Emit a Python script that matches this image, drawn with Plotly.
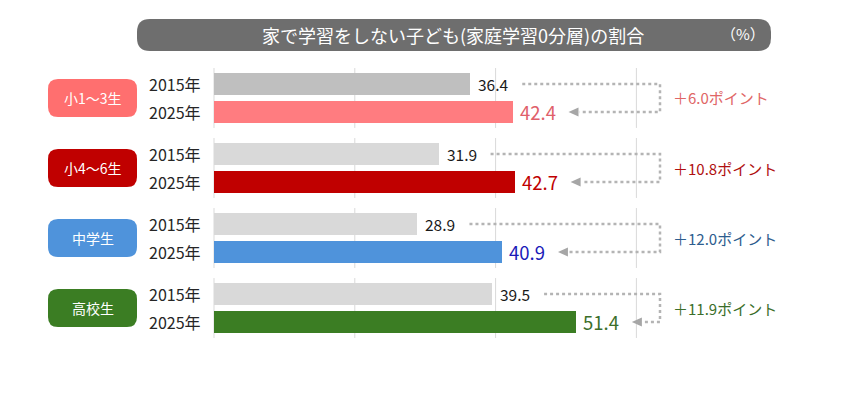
import plotly.graph_objects as go

# ---- data ----
categories = ["小1～3生", "小4～6生", "中学生", "高校生"]
years = ["2015年", "2025年"]
values_2015 = [36.4, 31.9, 28.9, 39.5]
values_2025 = [42.4, 42.7, 40.9, 51.4]
title_text = "家で学習をしない子ども(家庭学習0分層)の割合"
unit_text = "（%）"

# ---- styles ----
gray_2015 = ["#bfbfbf", "#d9d9d9", "#d9d9d9", "#d9d9d9"]
color_2025 = ["#ff7c80", "#c00000", "#4f93db", "#3b7d23"]
pill_colors = ["#ff6f6f", "#c00000", "#4f93db", "#3b7d23"]
label_2025_colors = ["#e0606a", "#c00000", "#1a1ab8", "#3b6e2a"]
diff_colors = ["#e06666", "#b01010", "#2e5d8e", "#3b6e2a"]
FONT = "Noto Sans CJK JP"

W, H = 841, 405
X0PX = 214.0          # pixel of value 0
PXU = 7.04            # pixels per unit of x
T, B = 68, 67         # plot area top/bottom margins
YU = 28.0             # pixels per y unit
GROUP_STEP = 2.5

def px2x(p):
    return (p - X0PX) / PXU

def dx(p):
    return p / PXU

def dy(p):
    return p / YU

plot_h = H - T - B
def py2paper(p):
    return (H - B - p) / plot_h

pos_2015 = [i * GROUP_STEP for i in range(len(categories))]
pos_2025 = [i * GROUP_STEP + 1 for i in range(len(categories))]

fig = go.Figure()
fig.add_trace(go.Bar(x=values_2015, y=pos_2015, orientation="h", width=0.79,
                     marker=dict(color=gray_2015, line=dict(width=0)),
                     hoverinfo="skip", showlegend=False))
fig.add_trace(go.Bar(x=values_2025, y=pos_2025, orientation="h", width=0.79,
                     marker=dict(color=color_2025, line=dict(width=0)),
                     hoverinfo="skip", showlegend=False))

shapes = []
annotations = []

def rounded_rect(x0, x1, y0, y1, rx, ry):
    return (f"M {x0+rx},{y0} L {x1-rx},{y0} Q {x1},{y0} {x1},{y0+ry} "
            f"L {x1},{y1-ry} Q {x1},{y1} {x1-rx},{y1} L {x0+rx},{y1} "
            f"Q {x0},{y1} {x0},{y1-ry} L {x0},{y0+ry} Q {x0},{y0} {x0+rx},{y0} Z")

BRACKET_X = px2x(660)
for i, cat in enumerate(categories):
    ya, yb = pos_2015[i], pos_2025[i]
    # grid segments
    for gv in [0, 20, 40, 60]:
        shapes.append(dict(type="line", xref="x", yref="y", x0=gv, x1=gv,
                           y0=ya - 0.57, y1=yb + 0.57,
                           line=dict(color="#d9d9d9", width=1), layer="below"))
    # pill
    ymid = (ya + yb) / 2
    shapes.append(dict(type="path", xref="x", yref="y",
                       path=rounded_rect(px2x(48), px2x(137), ymid - dy(19), ymid + dy(19), dx(10), dy(10)),
                       fillcolor=pill_colors[i], line=dict(width=0)))
    annotations.append(dict(x=(px2x(48) + px2x(137)) / 2, y=ymid, xref="x", yref="y",
                            text=cat, showarrow=False, xanchor="center", yanchor="middle",
                            font=dict(family=FONT, size=14, color="white")))
    # year labels
    for yy, yr in zip([ya, yb], years):
        annotations.append(dict(x=px2x(203), y=yy, xref="x", yref="y", text=yr,
                                showarrow=False, xanchor="right", yanchor="middle",
                                font=dict(family=FONT, size=16, color="#262626")))
    # value labels
    v1, v2 = values_2015[i], values_2025[i]
    annotations.append(dict(x=v1, y=ya, xref="x", yref="y", text=f"{v1:.1f}",
                            showarrow=False, xanchor="left", yanchor="middle", xshift=6,
                            font=dict(family=FONT, size=15.5, color="#1a1a1a")))
    annotations.append(dict(x=v2, y=yb, xref="x", yref="y", text=f"{v2:.1f}",
                            showarrow=False, xanchor="left", yanchor="middle", xshift=5,
                            font=dict(family=FONT, size=18.5, color=label_2025_colors[i])))
    # dotted bracket
    start = v1 + dx(52)
    tip = v2 + dx(56)
    shapes.append(dict(type="path", xref="x", yref="y",
                       path=f"M {start},{ya} L {BRACKET_X},{ya} L {BRACKET_X},{yb} L {tip + dx(11)},{yb}",
                       line=dict(color="#b4b4b4", width=2.5, dash="dot")))
    shapes.append(dict(type="path", xref="x", yref="y",
                       path=f"M {tip},{yb} L {tip + dx(10)},{yb - dy(4.5)} L {tip + dx(10)},{yb + dy(4.5)} Z",
                       fillcolor="#a6a6a6", line=dict(width=0)))
    # diff label
    diff = v2 - v1
    annotations.append(dict(x=px2x(671), y=ymid, xref="x", yref="y",
                            text=f"＋{diff:.1f}ポイント", showarrow=False,
                            xanchor="left", yanchor="middle",
                            font=dict(family=FONT, size=15, color=diff_colors[i])))

# title bar
shapes.append(dict(type="path", xref="x", yref="paper",
                   path=rounded_rect(px2x(137), px2x(771), py2paper(51), py2paper(19),
                                     dx(13), 13 / plot_h),
                   fillcolor="#6e6e6e", line=dict(width=0)))
annotations.append(dict(x=px2x(453), y=py2paper(35), xref="x", yref="paper", text=title_text,
                        showarrow=False, xanchor="center", yanchor="middle",
                        font=dict(family=FONT, size=18, color="white")))
annotations.append(dict(x=px2x(743), y=py2paper(34), xref="x", yref="paper", text=unit_text,
                        showarrow=False, xanchor="center", yanchor="middle",
                        font=dict(family=FONT, size=15, color="white")))

fig.update_layout(
    width=W, height=H,
    margin=dict(l=0, r=0, t=T, b=B),
    paper_bgcolor="white", plot_bgcolor="white",
    shapes=shapes, annotations=annotations,
    xaxis=dict(range=[px2x(0), px2x(W)], showgrid=False, zeroline=False,
               showticklabels=False, fixedrange=True),
    yaxis=dict(range=[pos_2025[-1] + 0.571, -0.571], showgrid=False, zeroline=False,
               showticklabels=False, fixedrange=True),
    bargap=0,
)

fig.write_html("out.html")
